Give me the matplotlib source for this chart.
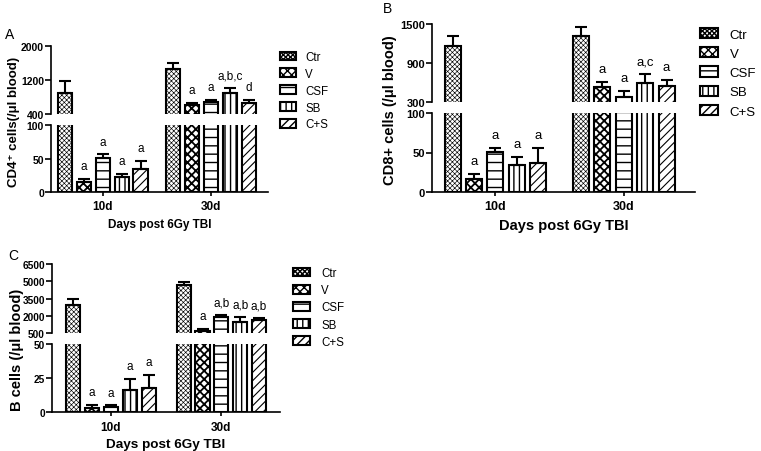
import matplotlib
matplotlib.use("Agg")
import matplotlib.pyplot as plt
from matplotlib.patches import Patch
import numpy as np

plt.rcParams['font.family'] = ['Liberation Sans', 'DejaVu Sans']

groups = ['Ctr', 'V', 'CSF', 'SB', 'C+S']
days = ['10d', '30d']

# CD4+ cells
cd4_10 = [890, 15, 51, 23, 34]
cd4_10_err = [280, 4, 5, 4, 13]
cd4_30 = [1460, 620, 690, 900, 660]
cd4_30_err = [140, 40, 30, 110, 80]
cd4_10_marks = ['', 'a', 'a', 'a', 'a']
cd4_30_marks = ['', 'a', 'a', 'a,b,c', 'd']

# CD8+ cells
cd8_10 = [1165, 16, 51, 34, 36]
cd8_10_err = [155, 7, 5, 10, 20]
cd8_30 = [1320, 520, 380, 585, 545]
cd8_30_err = [140, 85, 85, 140, 90]
cd8_10_marks = ['', 'a', 'a', 'a', 'a']
cd8_30_marks = ['', 'a', 'a', 'a,c', 'a']

# B cells
b_10 = [2950, 3.5, 4, 16, 18]
b_10_err = [500, 2, 1, 8.5, 9.5]
b_30 = [4700, 670, 1930, 1500, 1680]
b_30_err = [250, 200, 140, 380, 140]
b_10_marks = ['', 'a', 'a', 'a', 'a']
b_30_marks = ['', 'a', 'a,b', 'a,b', 'a,b']

hatches = ['xxxxxxx', 'xxxx', '--', '|||', '////']
hatch_lw = [0.45, 1.3, 1.0, 1.0, 0.8]

W, H = 761, 452
fig = plt.figure(figsize=(W / 100, H / 100), dpi=100)


def box(x0, x1, ytop, ybot):
    return [x0 / W, 1 - ybot / H, (x1 - x0) / W, (ybot - ytop) / H]


def panel(x0, x1, up, low, gap, xl, uplim, upticks, lowlim, lowticks,
          v10, e10, v30, e30, m10, m30, ylabel, ylab_xy, letter, letter_xy,
          fs_tick, fs_xt, fs_xl, fs_yl, fs_leg, fs_mark, leg_xy, leg_hl, leg_tp, leg_sp):
    ax_up = fig.add_axes(box(x0, x1, *up))
    ax_lo = fig.add_axes(box(x0, x1, *low))
    pos10 = np.arange(5.0)
    pos30 = pos10 + gap
    for ax in (ax_up, ax_lo):
        for pos, vals, errs in ((pos10, v10, e10), (pos30, v30, e30)):
            for i in range(5):
                b = ax.bar(pos[i], vals[i], 0.75, color='white', edgecolor='black',
                           linewidth=1.5, hatch=hatches[i])
                b.patches[0].set_hatch_linewidth(hatch_lw[i])
            ax.errorbar(pos, vals, yerr=[np.zeros(5), errs], fmt='none', ecolor='black',
                        elinewidth=1.5, capsize=4, capthick=1.5)
        ax.set_xlim(*xl)
        ax.spines['top'].set_visible(False)
        ax.spines['right'].set_visible(False)
        ax.spines['left'].set_linewidth(1.2)
        ax.spines['bottom'].set_linewidth(1.2)
        ax.tick_params(axis='y', length=4, width=1.2, pad=1)
    ax_up.set_ylim(*uplim)
    ax_up.set_yticks(upticks)
    ax_lo.set_ylim(*lowlim)
    ax_lo.set_yticks(lowticks)
    for ax in (ax_up, ax_lo):
        ax.set_yticklabels([str(t) for t in ax.get_yticks()], fontweight='bold', fontsize=fs_tick)
    ax_up.spines['bottom'].set_visible(False)
    ax_up.set_xticks([])
    ax_lo.set_xticks([pos10.mean(), pos30.mean()])
    ax_lo.set_xticklabels(days, fontweight='bold', fontsize=fs_xt)
    ax_lo.tick_params(axis='x', length=3, width=1.2, pad=3)
    ax_lo.set_xlabel('Days post 6Gy TBI', fontweight='bold', fontsize=fs_xl, labelpad=4)

    for pos, vals, errs, marks in ((pos10, v10, e10, m10), (pos30, v30, e30, m30)):
        for i in range(5):
            if not marks[i]:
                continue
            top = vals[i] + errs[i]
            ax = ax_up if top > lowlim[1] else ax_lo
            ax.annotate(marks[i], (pos[i], top), xytext=(0, 5), textcoords='offset points',
                        ha='center', va='bottom', fontsize=fs_mark, annotation_clip=False)

    fig.text(ylab_xy[0] / W, 1 - ylab_xy[1] / H, ylabel, rotation=90, ha='center', va='center',
             fontweight='bold', fontsize=fs_yl)
    fig.text(letter_xy[0] / W, 1 - letter_xy[1] / H, letter, ha='center', va='center', fontsize=10)

    handles = []
    for i in range(5):
        h = Patch(facecolor='white', edgecolor='black', linewidth=1.5,
                  hatch=hatches[i], label=groups[i])
        h.set_hatch_linewidth(hatch_lw[i])
        handles.append(h)
    fig.legend(handles=handles, loc='upper left', bbox_to_anchor=(leg_xy[0] / W, 1 - leg_xy[1] / H),
               frameon=False, borderpad=0, borderaxespad=0, fontsize=fs_leg, handlelength=leg_hl,
               handleheight=0.8, handletextpad=leg_tp, labelspacing=leg_sp)


panel(51, 268, (47, 115), (126, 193), 5.75, (-0.76, 10.78), (400, 2000), [400, 1200, 2000],
      (0, 100), [0, 50, 100], cd4_10, cd4_10_err, cd4_30, cd4_30_err, cd4_10_marks, cd4_30_marks,
      'CD4\u207a cells(/\u03bcl blood)', (14.5, 122), 'A', (10, 35),
      7.5, 8.5, 8.5, 9.5, 8.3, 8.5, (280, 52), 1.4, 0.8, 0.42)

panel(432, 695, (25, 102.7), (114.3, 192.7), 6.0, (-0.96, 11.33), (300, 1500), [300, 900, 1500],
      (0, 100), [0, 50, 100], cd8_10, cd8_10_err, cd8_30, cd8_30_err, cd8_10_marks, cd8_30_marks,
      'CD8+ cells (/\u03bcl blood)', (389.5, 110), 'B', (387, 9),
      8, 9, 10.5, 10.5, 9.5, 9.5, (700, 29), 1.36, 0.9, 0.5)

panel(52, 280, (265, 334.3), (345, 413.3), 5.86, (-1.13, 10.97), (500, 6500),
      [500, 2000, 3500, 5000, 6500], (0, 50), [0, 25, 50], b_10, b_10_err, b_30, b_30_err,
      b_10_marks, b_30_marks, 'B cells (/\u03bcl blood)', (17.5, 350), 'C', (13, 256),
      7.3, 8.5, 9.7, 10.5, 8.3, 8.5, (293, 268), 1.5, 0.95, 0.45)

fig.savefig('out.png', dpi=100)
